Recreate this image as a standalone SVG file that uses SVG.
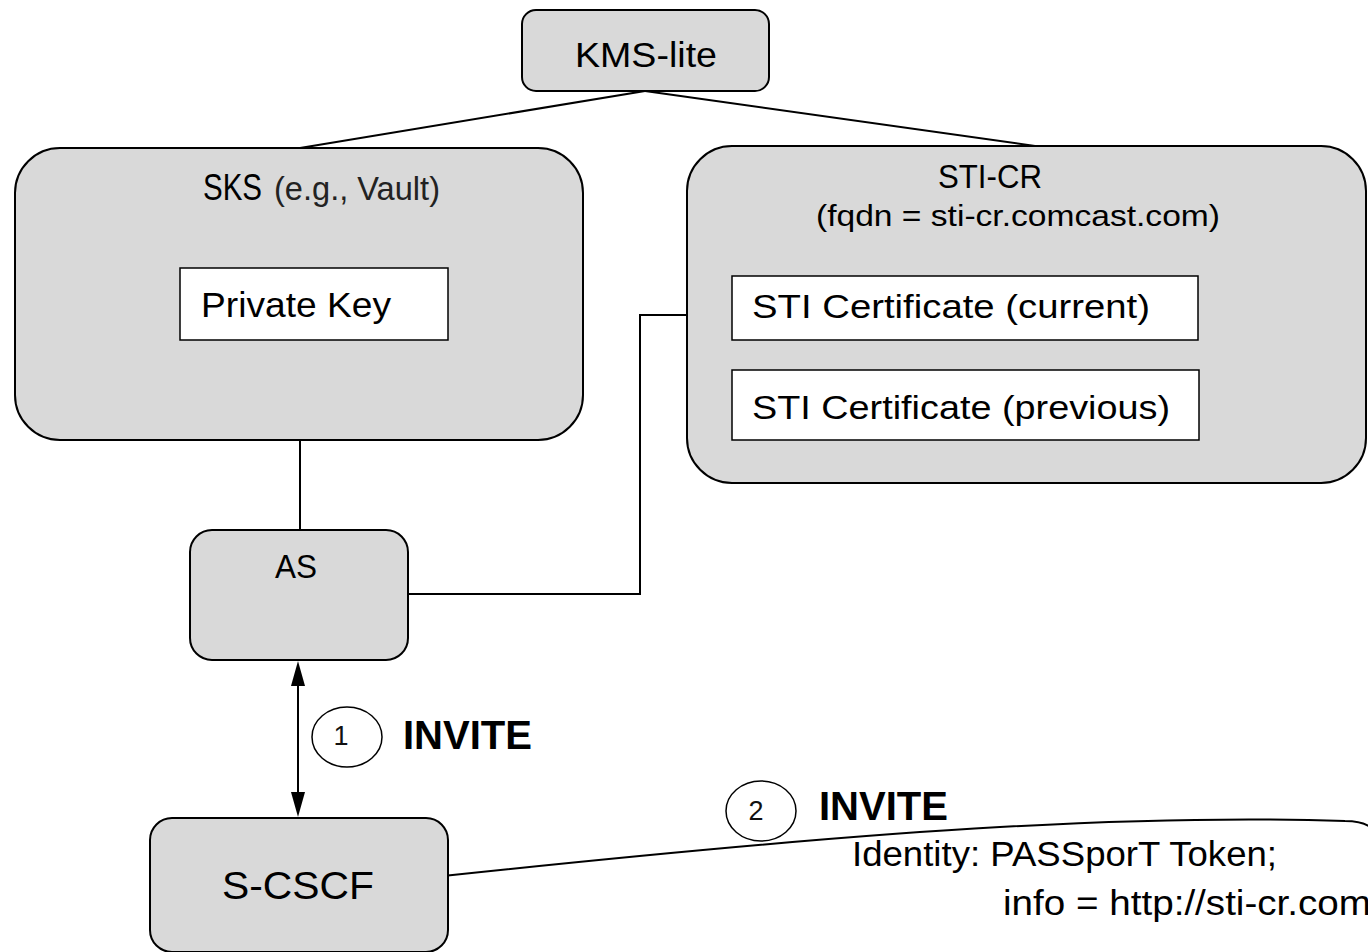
<svg xmlns="http://www.w3.org/2000/svg" width="1368" height="952" viewBox="0 0 1368 952">
  <defs>
    <style>
      .node { fill: #d9d9d9; stroke: #000; stroke-width: 2; }
      .item { fill: #fff; stroke: #000; stroke-width: 1.5; }
      .wire { fill: none; stroke: #000; stroke-width: 2; }
      .badge { fill: #fff; stroke: #000; stroke-width: 1.5; }
      text { font-family: "Liberation Sans", Arial, sans-serif; fill: #000; }
      .light { fill: #222; }
      .bold { font-weight: bold; }
      .num { font-size: 27px; text-anchor: middle; fill: #111; }
    </style>
  </defs>

  <!-- connectors -->
  <g id="connectors">
    <line class="wire" x1="645" y1="91" x2="300" y2="148"/>
    <line class="wire" x1="645" y1="91" x2="1035" y2="146"/>
    <line class="wire" x1="300" y1="440" x2="300" y2="530"/>
    <polyline class="wire" points="408,594 640,594 640,315 687,315"/>
    <!-- AS <-> S-CSCF, arrowheads at both ends -->
    <line class="wire" x1="298" y1="670" x2="298" y2="808"/>
    <path d="M298,661 l-7,25 l14,0 z" fill="#000"/>
    <path d="M298,817 l-7,-25 l14,0 z" fill="#000"/>
    <!-- S-CSCF outbound INVITE -->
    <path class="wire" d="M443,876 Q800,838 1000,827 T1345,821 Q1362,821 1370,827"/>
  </g>

  <g id="kms-lite">
    <rect class="node" x="522" y="10" width="247" height="81" rx="14"/>
    <text x="575" y="67" style="font-size:35px" textLength="142" lengthAdjust="spacingAndGlyphs">KMS-lite</text>
  </g>

  <g id="sks">
    <rect class="node" x="15" y="148" width="568" height="292" rx="45"/>
    <text x="203" y="200" style="font-size:36px" textLength="59" lengthAdjust="spacingAndGlyphs">SKS</text>
    <text x="274" y="200" class="light" style="font-size:33px" textLength="166" lengthAdjust="spacingAndGlyphs">(e.g., Vault)</text>
    <rect class="item" x="180" y="268" width="268" height="72"/>
    <text x="201" y="317" style="font-size:35px" textLength="190" lengthAdjust="spacingAndGlyphs">Private Key</text>
  </g>

  <g id="sti-cr">
    <rect class="node" x="687" y="146" width="679" height="337" rx="45"/>
    <text x="938" y="188" style="font-size:33px" textLength="104" lengthAdjust="spacingAndGlyphs">STI-CR</text>
    <text x="816" y="226" style="font-size:30px" textLength="404" lengthAdjust="spacingAndGlyphs">(fqdn = sti-cr.comcast.com)</text>
    <rect class="item" x="732" y="276" width="466" height="64"/>
    <text x="752" y="318" style="font-size:33px" textLength="398" lengthAdjust="spacingAndGlyphs">STI Certificate (current)</text>
    <rect class="item" x="732" y="370" width="467" height="70"/>
    <text x="752" y="419" style="font-size:33px" textLength="418" lengthAdjust="spacingAndGlyphs">STI Certificate (previous)</text>
  </g>

  <g id="as">
    <rect class="node" x="190" y="530" width="218" height="130" rx="22"/>
    <text x="275" y="578" style="font-size:34px" textLength="42" lengthAdjust="spacingAndGlyphs">AS</text>
  </g>

  <g id="s-cscf">
    <rect class="node" x="150" y="818" width="298" height="134" rx="22"/>
    <text x="222" y="899" style="font-size:39px" textLength="152" lengthAdjust="spacingAndGlyphs">S-CSCF</text>
  </g>

  <g id="step1">
    <ellipse class="badge" cx="347" cy="737" rx="35" ry="30"/>
    <text class="num" x="341" y="745">1</text>
    <text class="bold" x="403" y="749" style="font-size:40px" textLength="129" lengthAdjust="spacingAndGlyphs">INVITE</text>
  </g>

  <g id="step2">
    <ellipse class="badge" cx="761" cy="811" rx="35" ry="30"/>
    <text class="num" x="756" y="820">2</text>
    <text class="bold" x="819" y="820" style="font-size:40px" textLength="129" lengthAdjust="spacingAndGlyphs">INVITE</text>
    <text x="852" y="866" style="font-size:35px" textLength="425" lengthAdjust="spacingAndGlyphs">Identity: PASSporT Token;</text>
    <text x="1003" y="915" style="font-size:35px" textLength="368" lengthAdjust="spacingAndGlyphs">info = http://sti-cr.com</text>
  </g>
</svg>
